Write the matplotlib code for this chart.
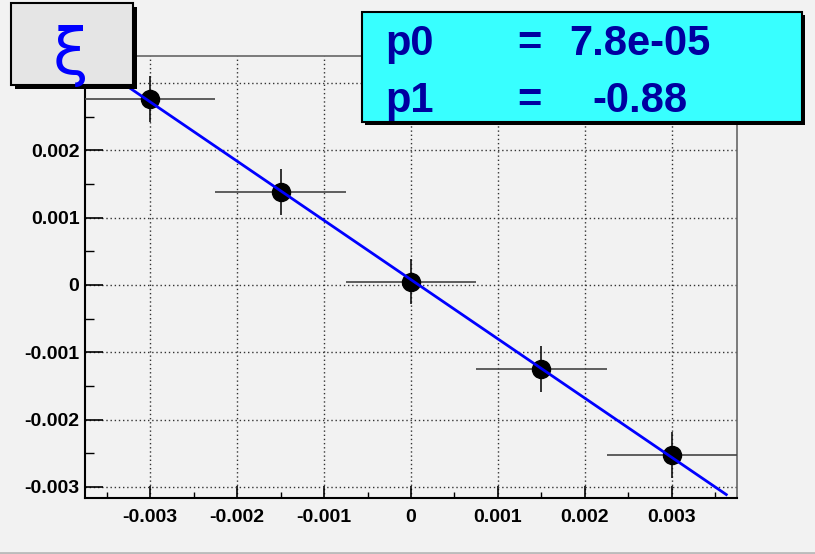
import matplotlib
matplotlib.use("Agg")
import matplotlib.pyplot as plt
from matplotlib.patches import Rectangle
from matplotlib.lines import Line2D
import numpy as np

# data
x_vals = [-0.003, -0.0015, 0.0, 0.0015, 0.003]
y_vals = [0.00276, 0.00138, 0.00005, -0.00125, -0.00253]
x_err = [0.00075, 0.00075, 0.00075, 0.00075, 0.00075]
y_err = [0.00034, 0.00034, 0.00034, 0.00034, 0.00034]
p0 = 7.8e-05
p1 = -0.88
fit_range = [-0.0036, 0.00364]
x_ticks = [-0.003, -0.002, -0.001, 0.0, 0.001, 0.002, 0.003]
x_tick_labels = ["-0.003", "-0.002", "-0.001", "0", "0.001", "0.002", "0.003"]
y_ticks = [-0.003, -0.002, -0.001, 0.0, 0.001, 0.002, 0.003]
y_tick_labels = ["-0.003", "-0.002", "-0.001", "0", "0.001", "0.002", "0.003"]
stat_names = ["p0", "p1"]
stat_values = ["7.8e-05", "-0.88"]
title_text = "ξ"

W, H = 815, 554
BG = "#f2f2f2"
fig = plt.figure(figsize=(W / 100, H / 100), dpi=100, facecolor=BG)

def fx(px):
    return px / W

def fy(py):
    return (H - py) / H

ax = fig.add_axes([fx(85), fy(497.7), (737 - 85) / W, (497.7 - 56) / H])
ax.set_facecolor(BG)
ax.set_xlim(-0.00375, 0.00375)
ax.set_ylim(-0.00316, 0.0034)

ax.set_xticks(x_ticks)
ax.set_xticklabels(x_tick_labels)
ax.set_yticks(y_ticks)
ax.set_yticklabels(y_tick_labels)
ax.set_xticks(np.arange(-0.0035, 0.0036, 0.0005), minor=True)
ax.set_yticks(np.arange(-0.0030, 0.0034, 0.0005), minor=True)

for lab in ax.get_xticklabels() + ax.get_yticklabels():
    lab.set_fontfamily("Liberation Sans")
    lab.set_fontweight("bold")
    lab.set_fontsize(14)

ax.tick_params(axis="x", which="major", direction="in", length=8.5, width=1.2, pad=8, color="black")
ax.tick_params(axis="x", which="minor", direction="in", length=4.5, width=1.0, color="black")
ax.tick_params(axis="y", which="major", direction="in", length=13, width=1.2, pad=4, color="black")
ax.tick_params(axis="y", which="minor", direction="in", length=6.5, width=1.0, color="black")
ax.tick_params(top=False, right=False)

ax.grid(True, which="major", linestyle=(0, (1, 2)), color="#333333", linewidth=1.0)
ax.set_axisbelow(True)

for s in ["left", "bottom"]:
    ax.spines[s].set_color("black")
    ax.spines[s].set_linewidth(1.5)
for s in ["top", "right"]:
    ax.spines[s].set_color("#666666")
    ax.spines[s].set_linewidth(1.2)

eb = ax.errorbar(x_vals, y_vals, xerr=x_err, yerr=y_err, fmt="o", color="black",
                 ms=13, ecolor="#111111", elinewidth=1.2, capsize=0, zorder=3)
# horizontal bars appear lighter in the reference
for coll in eb[2]:
    segs = coll.get_segments()
    if len(segs) and abs(segs[0][0][1] - segs[0][1][1]) < 1e-12:
        coll.set_color("#444444")

xf = np.array(fit_range)
ax.plot(xf, p0 + p1 * xf, color="#0000ff", lw=2, zorder=4, solid_capstyle="butt")

# title box with shadow
fig.add_artist(Rectangle((fx(15), fy(89)), fx(122), (82) / H, transform=fig.transFigure,
                         facecolor="black", edgecolor="none", zorder=10))
fig.add_artist(Rectangle((fx(11), fy(85)), fx(122), (82) / H, transform=fig.transFigure,
                         facecolor="#e5e5e5", edgecolor="black", lw=1.5, zorder=11))
fig.text(fx(70), fy(56), title_text, color="#0000ff", fontsize=46,
         family="DejaVu Sans", ha="center", va="center", zorder=12)

# stats box with shadow
fig.add_artist(Rectangle((fx(365), fy(125)), fx(440), 110 / H, transform=fig.transFigure,
                         facecolor="black", edgecolor="none", zorder=10))
fig.add_artist(Rectangle((fx(362), fy(122)), fx(440), 110 / H, transform=fig.transFigure,
                         facecolor="#38ffff", edgecolor="black", lw=1.5, zorder=11))
baselines = [55, 112]
for name, val, b in zip(stat_names, stat_values, baselines):
    fig.text(fx(385), fy(b), name, color="#0000a0", fontsize=30, fontweight="bold",
             family="Liberation Sans", ha="left", va="baseline", zorder=12)
    fig.text(fx(517), fy(b), "=", color="#0000a0", fontsize=30, fontweight="bold",
             family="Liberation Sans", ha="left", va="baseline", zorder=12)
    fig.text(fx(640), fy(b), val, color="#0000a0", fontsize=30, fontweight="bold",
             family="Liberation Sans", ha="center", va="baseline", zorder=12)

# canvas bottom border
fig.add_artist(Line2D([0, 1], [fy(553), fy(553)], transform=fig.transFigure,
                      color="#bbbbbb", lw=2, zorder=1))

fig.savefig("out.png", dpi=100, facecolor=BG)
